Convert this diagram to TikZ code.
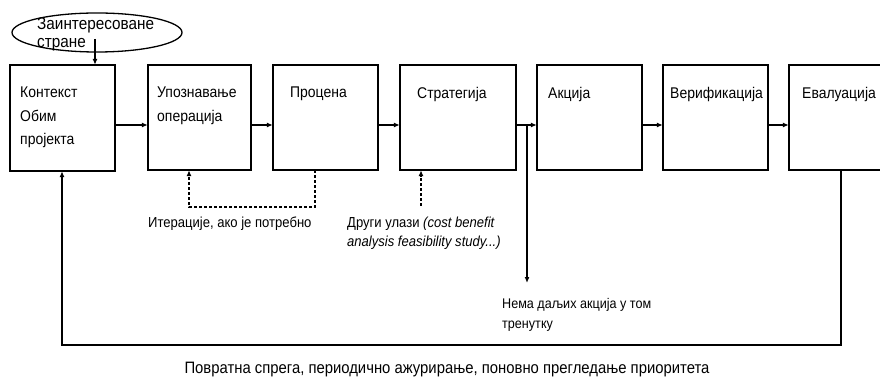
\documentclass[tikz,border=0pt]{standalone}
\usepackage{fontspec}
\setmainfont{Liberation Sans}[FakeStretch=0.9]
\usetikzlibrary{arrows.meta,shapes.geometric}
\begin{document}
\begin{tikzpicture}[x=1pt,y=-1pt,
  box/.style={draw,line width=1.6pt},
  btxt/.style={anchor=north west,align=left,inner sep=0pt,font=\fontsize{15.5}{23.5}\selectfont},
  lbl/.style={anchor=north west,align=left,inner sep=0pt,font=\fontsize{14.5}{19}\selectfont},
  arr/.style={line width=1.3pt,-{Latex[length=6pt,width=5pt]}},
  dsh/.style={line width=1.3pt,densely dashed,-{Latex[length=6pt,width=5pt]}},
  ln/.style={line width=1.3pt}]
\clip (0,0) rectangle (880,379);
\fill[white] (0,0) rectangle (880,379);
% boxes
\node[inner sep=0pt,minimum width=105pt,minimum height=106pt] (b1) at (62.5,118) {};
\node[inner sep=0pt,minimum width=103pt,minimum height=105pt] (b2) at (199.5,117.5) {};
\node[inner sep=0pt,minimum width=105pt,minimum height=105pt] (b3) at (325.5,117.5) {};
\node[inner sep=0pt,minimum width=116pt,minimum height=105pt] (b4) at (458,117.5) {};
\node[inner sep=0pt,minimum width=105pt,minimum height=105pt] (b5) at (589.5,117.5) {};
\node[inner sep=0pt,minimum width=105pt,minimum height=105pt] (b6) at (715.5,117.5) {};
\node[inner sep=0pt,minimum width=120pt,minimum height=105pt] (b7) at (849,117.5) {};
\foreach \b in {b1,b2,b3,b4,b5,b6,b7} \draw[box] (\b.north west) rectangle (\b.south east);
% box texts
\node[btxt] (t1) at (20,87) {Контекст\\Обим\\пројекта};
\node[btxt] (t2) at (157,87) {Упознавање\\операција};
\node[btxt] (t3) at (290,87) {Процена};
\node[btxt] (t4) at (417,87) {Стратегија};
\node[btxt] (t5) at (548,87) {Акција};
\node[btxt] (t6) at (670,87) {Верификација};
\node[btxt] (t7) at (802,87) {Евалуација};
% ellipse
\node[draw,ellipse,line width=1.3pt,minimum width=170pt,minimum height=39pt,inner sep=0pt] (st) at (97,32.5) {};
\node[lbl,font=\fontsize{17}{18.5}\selectfont] (stt) at (37,17) {Заинтересоване\\стране};
\coordinate (sts) at (95,39);
\draw[arr] (sts) -- (sts |- b1.north);
% horizontal arrows
\draw[arr] (b1.east |- 0,125) -- (b2.west |- 0,125);
\draw[arr] (b2.east |- 0,125) -- (b3.west |- 0,125);
\draw[arr] (b3.east |- 0,125) -- (b4.west |- 0,125);
\draw[arr] (b4.east |- 0,125) -- (b5.west |- 0,125);
\draw[arr] (b5.east |- 0,125) -- (b6.west |- 0,125);
\draw[arr] (b6.east |- 0,125) -- (b7.west |- 0,125);
% no further action
\coordinate (nj) at (527,125);
\coordinate (ne) at (527,283);
\draw[arr] (nj) -- (ne);
\node[lbl,font=\fontsize{14}{20}\selectfont] (nl) at (502,298) {Нема даљих акција у том\\тренутку};
% iteration
\coordinate (i1) at (315,207);
\coordinate (i2) at (189,207);
\draw[dsh] (b3.south -| i1) -- (i1) -- (i2) -- (b2.south -| i2);
\node[lbl] (il) at (148,217) {Итерације, ако је потребно};
% other inputs
\coordinate (o1) at (421,206);
\draw[dsh] (o1) -- (b4.south -| o1);
\node[lbl] (ol) at (347,217) {Други улази \textit{(cost benefit}\\\textit{analysis feasibility study...)}};
% feedback
\coordinate (f1) at (841,345);
\coordinate (f2) at (62,345);
\draw[ln,-{Latex[length=6pt,width=5pt]}] (b7.south -| f1) -- (f1) -- (f2) -- (b1.south -| f2);
\node[anchor=base,inner sep=0pt,font=\fontsize{16.5}{18}\selectfont] (fl) at (447,373) {Повратна спрега, периодично ажурирање, поновно прегледање приоритета};
\end{tikzpicture}
\end{document}
